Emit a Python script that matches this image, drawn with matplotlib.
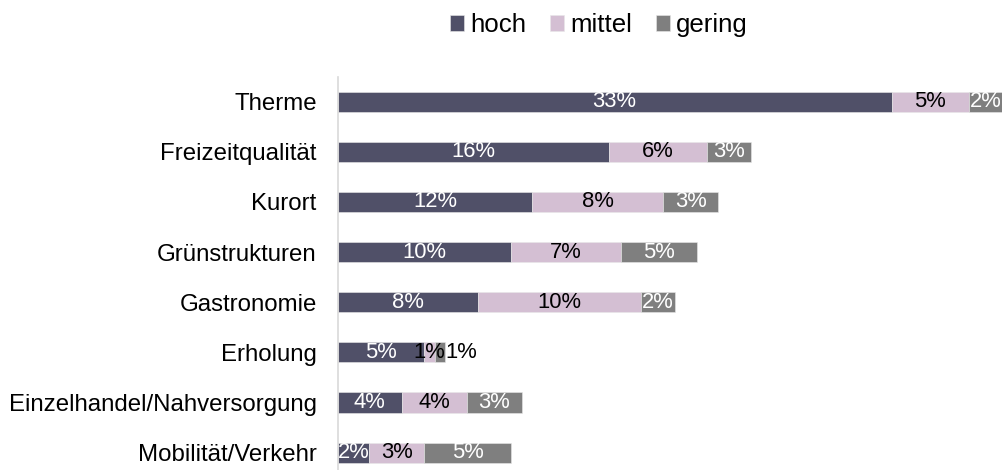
import numpy as np
import matplotlib
matplotlib.use("Agg")
import matplotlib.pyplot as plt

plt.rcParams["font.family"] = ["Liberation Sans", "DejaVu Sans"]

# Kategorien von oben nach unten
categories = [
    "Therme",
    "Freizeitqualität",
    "Kurort",
    "Grünstrukturen",
    "Gastronomie",
    "Erholung",
    "Einzelhandel/Nahversorgung",
    "Mobilität/Verkehr",
]
series_names = ["hoch", "mittel", "gering"]
hoch = [32.98, 16.15, 11.6, 10.32, 8.37, 5.16, 3.83, 1.89]
mittel = [4.6, 5.83, 7.8, 6.55, 9.72, 0.65, 3.87, 3.27]
gering = [2.0, 2.62, 3.26, 4.54, 1.99, 0.6, 3.27, 5.16]

colors = ["#505068", "#D4BFD3", "#7F7F7F"]
label_colors = ["white", "black", "white"]

W, H = 1002, 470
fig = plt.figure(figsize=(W / 100, H / 100), dpi=100)
ax = fig.add_axes([337.5 / W, -7.7 / H, 664.5 / W, 401.1 / H])

y = np.arange(len(categories))
left = np.zeros(len(categories))
for name, vals, col, lcol in zip(series_names, [hoch, mittel, gering], colors, label_colors):
    vals = np.array(vals)
    ax.barh(y, vals, left=left, height=0.4, color=col, label=name,
            edgecolor="#E8E8E8", linewidth=0.4)
    for yi, l, v in zip(y, left, vals):
        txt = f"{v:.0f}%"
        if name == "gering" and v < 1:
            # zu schmal -> Beschriftung rechts neben dem Balken
            ax.text(l + v, yi, txt, ha="left", va="center", fontsize=15.8, color="black")
        else:
            ax.text(l + v / 2, yi, txt, ha="center", va="center", fontsize=15.8,
                    color="black" if v < 1 else lcol)
    left += vals

ax.set_xlim(0, 39.55)
ax.set_ylim(len(categories) - 0.5, -0.5)
ax.set_yticks(y)
ax.set_yticklabels(categories, fontsize=17.3)
ax.tick_params(axis="y", length=0, pad=15)
ax.set_xticks([])
for s in ["top", "right", "bottom"]:
    ax.spines[s].set_visible(False)
ax.spines["left"].set_color("#D9D9D9")
ax.spines["left"].set_linewidth(1.2)

fig.legend(loc="center", bbox_to_anchor=(599 / W, 1 - 25 / H), ncol=3, frameon=False,
           fontsize=18.6, handlelength=0.55, handleheight=0.55, handletextpad=0.25,
           columnspacing=0.9, borderpad=0, borderaxespad=0)

fig.savefig("out.png", dpi=100)
